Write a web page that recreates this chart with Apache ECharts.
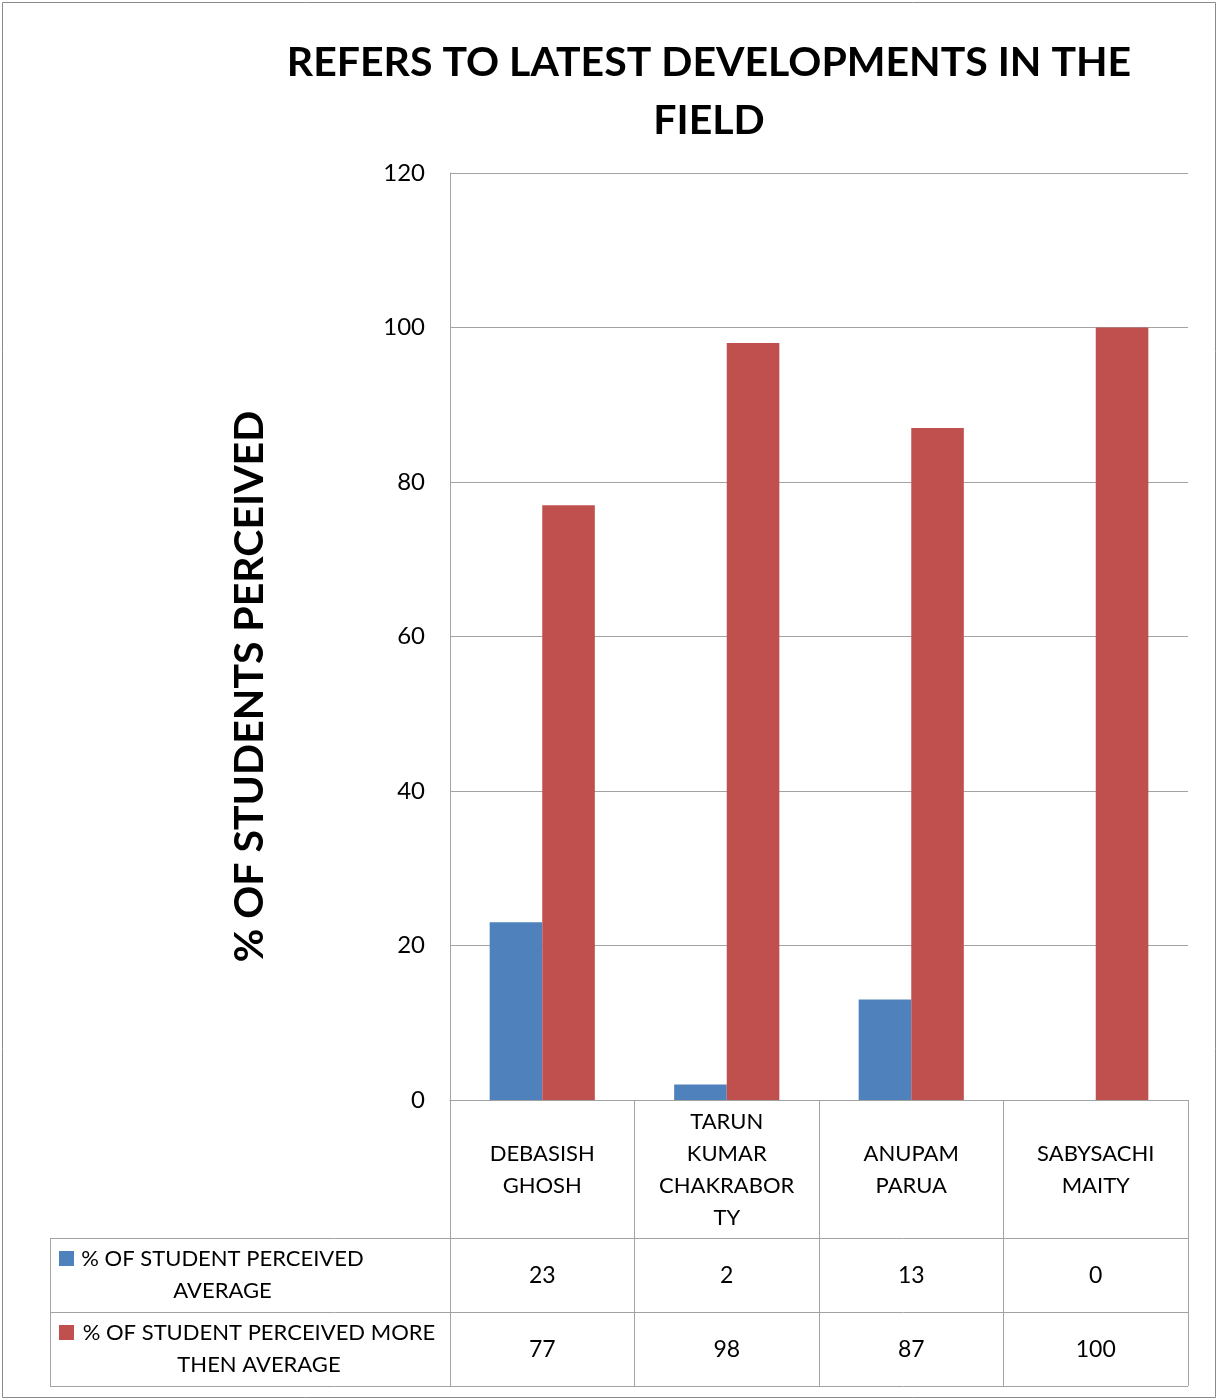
<!DOCTYPE html>
<html><head><meta charset="utf-8">
<script src="https://cdn.jsdelivr.net/npm/echarts@6/dist/echarts.min.js"></script>
<style>html,body{margin:0;padding:0;background:#fff}#c{width:1218px;height:1400px}</style>
</head><body><div id="c"></div>
<script>
const titleLines = ['REFERS TO LATEST DEVELOPMENTS IN THE', 'FIELD'];
const yAxisTitle = '% OF STUDENTS PERCEIVED';
const categories = ['DEBASISH\nGHOSH', 'TARUN\nKUMAR\nCHAKRABOR\nTY', 'ANUPAM\nPARUA', 'SABYSACHI\nMAITY'];
const seriesNames = ['% OF STUDENT PERCEIVED AVERAGE', '% OF STUDENT PERCEIVED MORE THEN AVERAGE'];
const seriesLabelLines = [['% OF STUDENT PERCEIVED', 'AVERAGE'], ['% OF STUDENT PERCEIVED MORE', 'THEN AVERAGE']];
const averageValues = [23, 2, 13, 0];
const moreThanAverageValues = [77, 98, 87, 100];
const yMin = 0, yMax = 120, yStep = 20;

const FONT = 'Lato';
const GRAY = '#a3a3a3';
const colors = ['#4F81BD', '#C0504D'];

function legendFor(i, top, w) {
  return {
    data: [seriesNames[i]],
    left: 54, top: top,
    icon: 'rect', itemWidth: 15, itemHeight: 15,
    selectedMode: false,
    formatter: () => '{a|' + seriesLabelLines[i][0] + '}\n{a|' + seriesLabelLines[i][1] + '}',
    textStyle: {
      color: '#000', fontSize: 22, fontFamily: FONT, padding: [32, 0, 0, 0],
      rich: { a: { width: w, align: 'center', fontSize: 22, lineHeight: 32, fontFamily: FONT, color: '#000' } }
    }
  };
}

function valueAxis(values, margin) {
  return {
    type: 'category', data: values.map(String), position: 'bottom', gridIndex: 0,
    axisLine: { show: false }, axisTick: { show: false }, splitLine: { show: false },
    axisLabel: { interval: 0, margin: margin, verticalAlign: 'middle', fontSize: 23, fontFamily: FONT, color: '#000' }
  };
}

const chart = echarts.init(document.getElementById('c'), null, { renderer: 'canvas' });
chart.setOption({
  animation: false,
  backgroundColor: '#fff',
  title: {
    text: titleLines.join('\n'), left: 704, top: 29, textAlign: 'center',
    textStyle: { fontSize: 41, fontWeight: 'bold', lineHeight: 58, fontFamily: FONT, color: '#000' }
  },
  grid: { left: 450, right: 30, top: 173, bottom: 300, containLabel: false },
  legend: [legendFor(0, 1242.5, 287), legendFor(1, 1316.5, 360)],
  xAxis: [
    {
      type: 'category', data: categories, position: 'bottom',
      axisLine: { show: true, lineStyle: { color: GRAY, width: 1 } },
      axisTick: { show: true, interval: 0, length: 286, lineStyle: { color: GRAY, width: 1 } },
      axisLabel: { interval: 0, margin: 70, verticalAlign: 'middle', lineHeight: 32, fontSize: 22, fontFamily: FONT, color: '#000' }
    },
    valueAxis(averageValues, 176),
    valueAxis(moreThanAverageValues, 250)
  ],
  yAxis: {
    type: 'value', min: yMin, max: yMax, interval: yStep,
    name: yAxisTitle, nameLocation: 'middle', nameRotate: 90, nameGap: 180,
    nameTextStyle: { fontSize: 41, fontWeight: 'bold', fontFamily: FONT, color: '#000', padding: [0, 100, 0, 0] },
    axisLine: { show: true, lineStyle: { color: GRAY, width: 1 } },
    axisTick: { show: false },
    splitLine: { show: true, lineStyle: { color: GRAY, width: 1 } },
    axisLabel: { margin: 25, fontSize: 24, fontFamily: FONT, color: '#000' }
  },
  series: [
    { name: seriesNames[0], type: 'bar', data: averageValues, xAxisIndex: 0, barGap: '0%', barCategoryGap: '43%', itemStyle: { color: colors[0] } },
    { name: seriesNames[1], type: 'bar', data: moreThanAverageValues, xAxisIndex: 0, barGap: '0%', barCategoryGap: '43%', itemStyle: { color: colors[1] } }
  ],
  graphic: [
    { type: 'rect', shape: { x: 2.5, y: 2.5, width: 1213, height: 1395 }, style: { fill: 'none', stroke: '#8a8a8a', lineWidth: 1 }, silent: true },
    { type: 'line', shape: { x1: 50, y1: 1238.5, x2: 1188, y2: 1238.5 }, style: { stroke: GRAY, lineWidth: 1 }, silent: true },
    { type: 'line', shape: { x1: 50, y1: 1312.5, x2: 1188, y2: 1312.5 }, style: { stroke: GRAY, lineWidth: 1 }, silent: true },
    { type: 'line', shape: { x1: 50, y1: 1386.5, x2: 1188, y2: 1386.5 }, style: { stroke: GRAY, lineWidth: 1 }, silent: true },
    { type: 'line', shape: { x1: 50.5, y1: 1238, x2: 50.5, y2: 1387 }, style: { stroke: GRAY, lineWidth: 1 }, silent: true }
  ]
});
</script>
</body></html>
